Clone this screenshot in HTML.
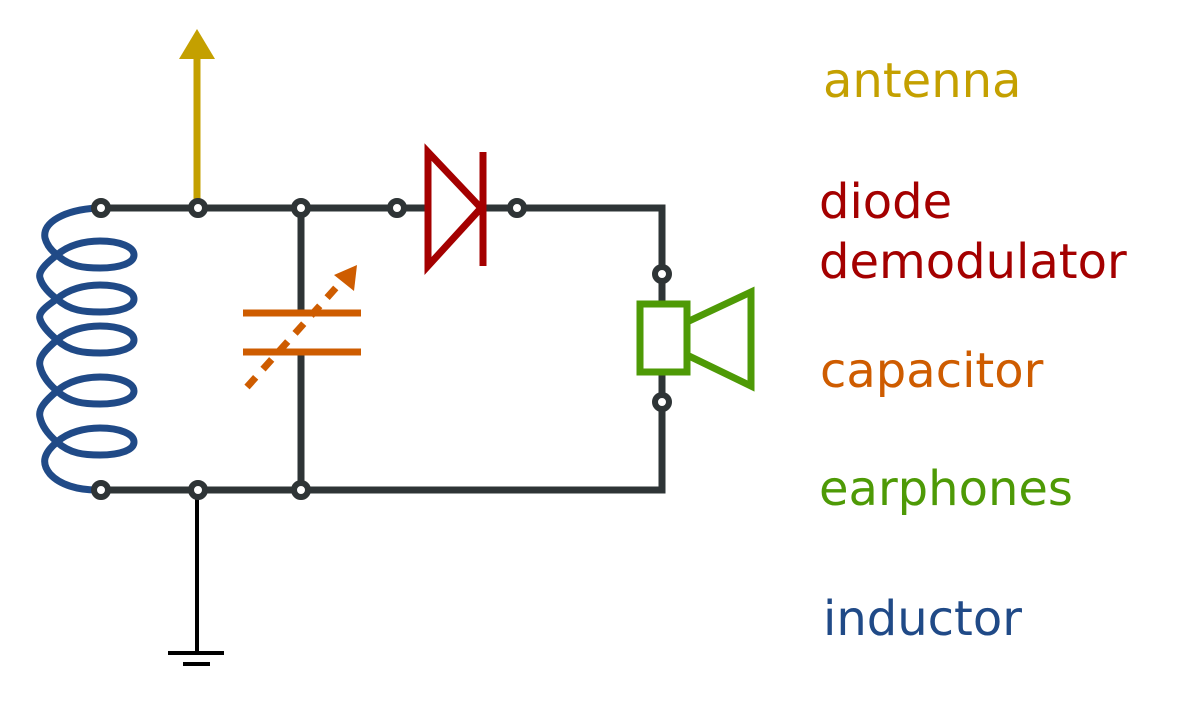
<!DOCTYPE html>
<html><head><meta charset="utf-8"><style>
html,body{margin:0;padding:0;background:#fff;}
svg{display:block}
text{font-family:"DejaVu Sans","Liberation Sans",sans-serif;font-size:48px;}
</style></head><body>
<svg width="1200" height="720" viewBox="0 0 1200 720" xmlns="http://www.w3.org/2000/svg">
<!-- antenna -->
<line x1="197" y1="208" x2="197" y2="55" stroke="#c4a000" stroke-width="7"/>
<polygon points="179,59 215,59 197,29" fill="#c4a000"/>
<!-- ground -->
<line x1="197" y1="490" x2="197" y2="653" stroke="#000" stroke-width="4"/>
<line x1="168" y1="653" x2="224" y2="653" stroke="#000" stroke-width="4"/>
<line x1="183" y1="664" x2="210" y2="664" stroke="#000" stroke-width="4"/>
<!-- inductor -->
<path fill="none" stroke="#204a87" stroke-width="7" d="M97,208 C65,210 42,222 45,238 C47,246 52,251 57,255
C70,267 85,268 100,268 C120,268 134,263 134,255 C134,247 120,241 100,241 C85,241 68,245 57,255
C45,264 38,272 40,278 C42,286 50,294 57,299
C70,311 85,312 100,312 C120,312 134,307 134,299 C134,291 120,285 100,285 C85,285 68,289 57,299
C45,307 38,313 40,319 C42,326 50,334 57,340
C70,352 85,353 100,353 C120,353 134,348 134,340 C134,332 120,326 100,326 C85,326 68,330 57,340
C45,350 38,358 40,366 C42,376 50,385 57,391
C70,403 85,404 100,404 C120,404 134,399 134,391 C134,383 120,377 100,377 C85,377 68,381 57,391
C45,401 38,409 40,417 C42,427 50,436 57,442
C70,454 85,455 100,455 C120,455 134,450 134,442 C134,434 120,428 100,428 C85,428 68,432 57,442
C45,452 40,462 50,474 C60,485 78,490 97,490"/>
<!-- wires -->
<path fill="none" stroke="#2e3436" stroke-width="7" d="M101,208 H662 V304 M662,372 V490 H101 M301,208 V313 M301,352 V490"/>
<!-- capacitor -->
<line x1="243" y1="313" x2="361" y2="313" stroke="#ce5c00" stroke-width="7"/>
<line x1="243" y1="352" x2="361" y2="352" stroke="#ce5c00" stroke-width="7"/>
<line x1="247" y1="387" x2="342" y2="281" stroke="#ce5c00" stroke-width="7" stroke-dasharray="13,11"/>
<polygon points="357,265 334,275 354,291" fill="#ce5c00"/>
<!-- diode -->
<polygon points="428,152 428,266 481,208" fill="#fff" stroke="#a40000" stroke-width="7"/>
<line x1="483" y1="152" x2="483" y2="266" stroke="#a40000" stroke-width="7"/>
<!-- earphone -->
<rect x="640" y="304" width="47" height="68" fill="#fff" stroke="#4e9a06" stroke-width="7"/>
<polygon points="687,322 751,292 751,386 687,355" fill="#fff" stroke="#4e9a06" stroke-width="7"/>
<!-- nodes -->
<g fill="#fff" stroke="#2e3436" stroke-width="6">
<circle cx="101" cy="208" r="7"/><circle cx="198" cy="208" r="7"/><circle cx="301" cy="208" r="7"/>
<circle cx="397" cy="208" r="7"/><circle cx="517" cy="208" r="7"/>
<circle cx="662" cy="274" r="7"/><circle cx="662" cy="402" r="7"/>
<circle cx="101" cy="490" r="7"/><circle cx="198" cy="490" r="7"/><circle cx="301" cy="490" r="7"/>
</g>
<!-- labels -->
<text x="823" y="97" fill="#c4a000">antenna</text>
<text x="819" y="218" fill="#a40000">diode</text>
<text x="819" y="278" fill="#a40000">demodulator</text>
<text x="820" y="387" fill="#ce5c00">capacitor</text>
<text x="819" y="505" fill="#4e9a06">earphones</text>
<text x="823" y="635" fill="#204a87">inductor</text>
</svg>
</body></html>
